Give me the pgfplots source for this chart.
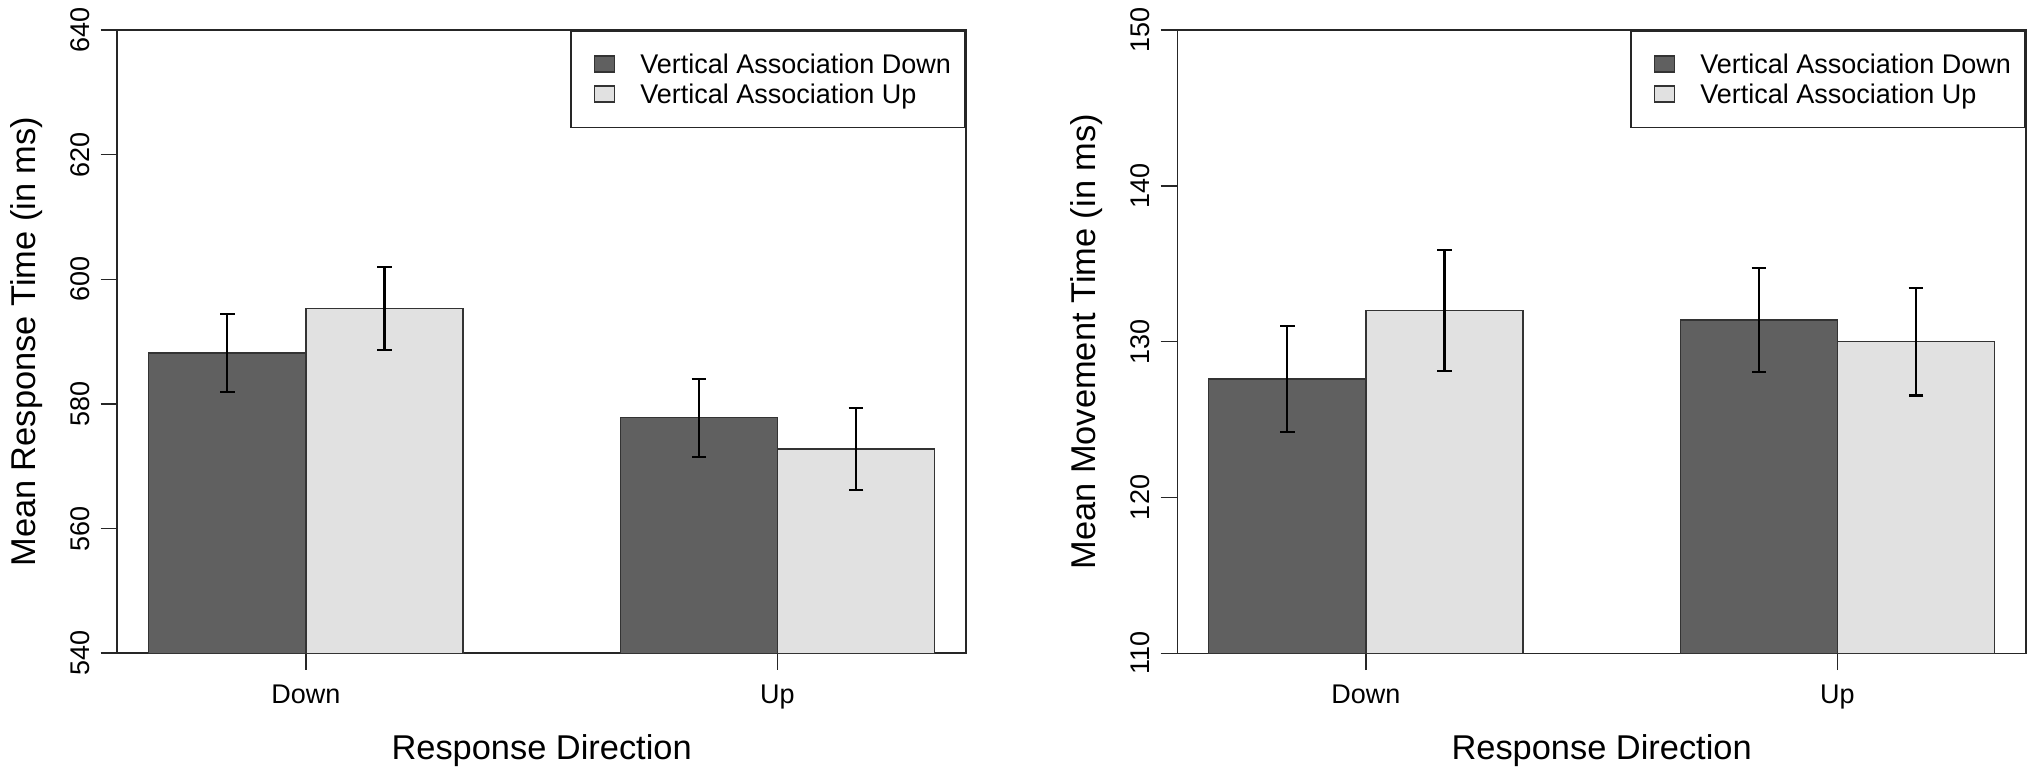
\documentclass[border=0pt]{standalone}
\usepackage{fontspec}
\setmainfont{Liberation Sans}
\usepackage{pgfplots}
\pgfplotsset{compat=1.18}
\definecolor{darkbar}{HTML}{606060}
\definecolor{lightbar}{HTML}{E1E1E1}
\definecolor{edge}{HTML}{333333}
\pgfplotsset{
  sqlegend/.style={legend image code/.code={%
      \path (0pt,0pt) (26.7pt,0pt);
      \draw[##1,line width=0.6pt] (4.2pt,0.6pt) rectangle (14.2pt,8.6pt);}},
  rstyle/.style={
    scale only axis, width=424.35pt, height=311.65pt,
    xmin=0.8, xmax=6.2, xtick={2,5}, xticklabels={Down,Up},
    axis line style={line width=0.8pt, black!85},
    tick style={line width=0.8pt, black!85},
    tick align=outside, tick pos=left, major tick length=8.35pt,
    /pgf/number format/assume math mode=true,
    ticklabel style={font=\fontsize{13.5}{16}\selectfont},
    xticklabel style={anchor=base, yshift=-16.65pt, inner sep=0pt},
    yticklabel style={xshift=-5.65pt, rotate=90, anchor=base, inner sep=0pt},
    label style={font=\fontsize{17.2}{20}\selectfont},
    xlabel style={at={(axis description cs:0.5,-0.170)}, anchor=base},
    ylabel style={at={(axis description cs:-0.09697,0.5)}, anchor=base},
    xlabel={Response Direction},
    legend cell align=left,
    legend style={at={(1,1)}, anchor=north east, draw=black!85, line width=0.8pt,
      inner xsep=7.15pt, inner ysep=9.2pt, row sep=0pt,
      font=\fontsize{13.5}{16}\selectfont,
      nodes={anchor=base west, inner sep=0pt, text height=12pt, text depth=3pt}},
  },
  barA/.style={ybar, bar width=1, bar shift=0pt, fill=darkbar, draw=edge, line width=0.7pt, sqlegend,
    error bars/.cd, y dir=both, y explicit, error mark=-,
    error bar style={line width=1.1pt, black},
    error mark options={rotate=90, black, mark size=3.65pt, line width=1.1pt}},
  barB/.style={ybar, bar width=1, bar shift=0pt, fill=lightbar, draw=edge, line width=0.7pt, sqlegend,
    error bars/.cd, y dir=both, y explicit, error mark=-,
    error bar style={line width=1.1pt, black},
    error mark options={rotate=90, black, mark size=3.65pt, line width=1.1pt}},
}
\begin{document}
\begin{tikzpicture}
\useasboundingbox (0pt,0pt) rectangle (1015pt,388.5pt);
\begin{axis}[rstyle, at={(58.65pt,61.85pt)}, anchor=south west,
  ymin=540, ymax=640, ytick={540,560,580,600,620,640},
  ylabel={Mean Response Time (in ms)}]
\addplot[barA] coordinates {(1.5,588.2) +- (0,6.3) (4.5,577.8) +- (0,6.25)};
\addlegendentry{Vertical Association Down}
\addplot[barB] coordinates {(2.5,595.3) +- (0,6.7) (5.5,572.8) +- (0,6.55)};
\addlegendentry{Vertical Association Up}
\end{axis}
\begin{axis}[rstyle, at={(588.65pt,61.85pt)}, anchor=south west,
  ymin=110, ymax=150, ytick={110,120,130,140,150},
  ylabel={Mean Movement Time (in ms)}]
\addplot[barA] coordinates {(1.5,127.6) +- (0,3.4) (4.5,131.4) +- (0,3.35)};
\addlegendentry{Vertical Association Down}
\addplot[barB] coordinates {(2.5,132.0) +- (0,3.9) (5.5,130.0) +- (0,3.45)};
\addlegendentry{Vertical Association Up}
\end{axis}
\end{tikzpicture}
\end{document}
